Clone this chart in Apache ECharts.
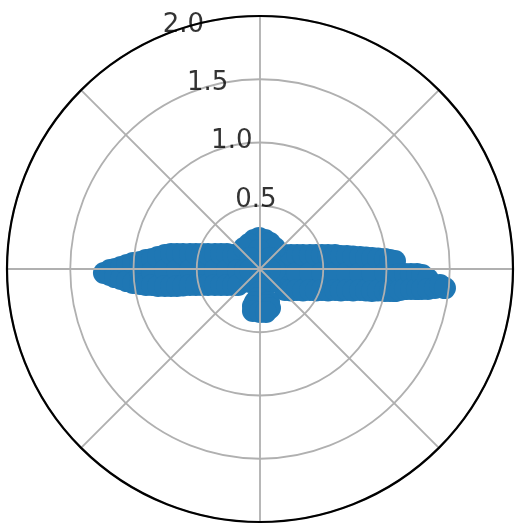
<!DOCTYPE html>
<html>
<head>
<meta charset="utf-8">
<script src="https://cdn.jsdelivr.net/npm/echarts@6/dist/echarts.min.js"></script>
<style>
  html, body { margin: 0; padding: 0; background: #ffffff; }
  #chart { width: 523px; height: 531px; }
</style>
</head>
<body>
<div id="chart"></div>
<script>
// Scatter samples as [radius, angle in degrees], angle counter-clockwise from east.
var rightArm = [
  [0.226, 29.2], [0.200, 350.9], [0.258, 320.0],
  [0.269, 24.3], [0.298, 325.3],
  [0.313, 20.7], [0.294, 353.8], [0.336, 330.4],
  [0.357, 18.0], [0.380, 333.4],
  [0.410, 15.6], [0.397, 355.4], [0.429, 337.2],
  [0.456, 14.0], [0.474, 339.0],
  [0.502, 12.7], [0.491, 356.3], [0.517, 341.3],
  [0.549, 11.6], [0.564, 342.5],
  [0.603, 10.6], [0.594, 356.9], [0.616, 344.4],
  [0.648, 9.1], [0.662, 345.1],
  [0.695, 8.5], [0.688, 357.4], [0.708, 346.4],
  [0.742, 7.7], [0.755, 347.0],
  [0.796, 6.8], [0.791, 357.7], [0.808, 348.1],
  [0.843, 6.2], [0.855, 348.5],
  [0.890, 5.6], [0.886, 358.0], [0.902, 348.9],
  [0.937, 5.1], [0.948, 349.7],
  [0.991, 4.6], [0.989, 358.2], [1.003, 350.0],
  [1.030, 4.0], [1.042, 350.4],
  [1.069, 3.4], [1.068, 357.5], [1.081, 350.7],
  [1.107, 358.0], [1.119, 351.5],
  [1.147, 358.0], [1.157, 352.1],
  [1.194, 358.1], [1.204, 352.5],
  [1.242, 358.2], [1.251, 352.7],
  [1.282, 357.9], [1.290, 353.0],
  [1.330, 356.6], [1.337, 353.2],
  [1.391, 353.8], [1.428, 354.9], [1.470, 354.1]
];

var leftArm = [
  [1.234, 181.5],
  [1.186, 180.4], [1.187, 182.3],
  [1.146, 180.0], [1.148, 183.2],
  [1.099, 179.2], [1.102, 184.1],
  [1.052, 178.3], [1.056, 185.2],
  [1.005, 177.3], [1.010, 186.3],
  [0.950, 176.7], [0.949, 181.9], [0.956, 187.1],
  [0.904, 175.5], [0.910, 188.0],
  [0.857, 174.7], [0.854, 181.6], [0.863, 188.4],
  [0.812, 173.3], [0.817, 189.5],
  [0.759, 171.6], [0.751, 180.6], [0.763, 190.1],
  [0.713, 170.4], [0.716, 190.8],
  [0.667, 169.8], [0.656, 180.7], [0.670, 191.6],
  [0.620, 169.0], [0.622, 192.1],
  [0.566, 167.9], [0.553, 180.8], [0.568, 192.9],
  [0.520, 166.8], [0.522, 194.0],
  [0.474, 165.5], [0.459, 181.0], [0.476, 195.4],
  [0.428, 163.9], [0.430, 197.1],
  [0.375, 161.6], [0.356, 181.3], [0.378, 199.6],
  [0.330, 159.0], [0.333, 202.3],
  [0.287, 155.6], [0.261, 181.7], [0.290, 205.9],
  [0.240, 152.6], [0.248, 210.6],
  [0.206, 147.5], [0.174, 182.6], [0.215, 216.0]
];

var core = [
  [0.245, 91.8], [0.234, 101.7], [0.233, 80.2],
  [0.216, 113.7], [0.220, 69.0], [0.209, 127.3], [0.204, 54.5],
  [0.150, 93.0], [0.055, 90.0], [0.000, 0.0],
  [0.117, 132.3], [0.117, 47.7], [0.130, 232.4], [0.130, 307.6],
  [0.119, 183.8], [0.119, 356.2],
  [0.079, 185.7], [0.079, 354.3], [0.063, 270.0], [0.126, 270.0]
];

var lowerLobe = [
  [0.182, 270.0], [0.230, 266.1],
  [0.264, 261.4], [0.270, 285.3], [0.289, 279.5], [0.298, 259.3],
  [0.318, 284.4], [0.337, 260.5], [0.340, 270.0], [0.343, 277.9]
];

// Radial tick labels and the angle they sit at.
var radiusTicks = [0.5, 1.0, 1.5, 2.0];
var radiusTickLabels = ['0.5', '1.0', '1.5', '2.0'];
var radiusLabelAngle = 112.5;

var points = rightArm.concat(leftArm, core, lowerLobe);
var tickData = radiusTicks.map(function (r) { return [r, radiusLabelAngle]; });

var chart = echarts.init(document.getElementById('chart'), null, { renderer: 'canvas' });
chart.setOption({
  backgroundColor: '#ffffff',
  animation: false,
  polar: { center: [260, 269], radius: 253 },
  angleAxis: {
    type: 'value', min: 0, max: 360, interval: 45,
    startAngle: 0, clockwise: false, z: 5,
    axisLine: { show: true, lineStyle: { color: '#000000', width: 2.2 } },
    axisTick: { show: false },
    axisLabel: { show: false },
    splitLine: { show: true, lineStyle: { color: '#b0b0b0', width: 1.8 } },
    splitArea: { show: false }
  },
  radiusAxis: {
    type: 'value', min: 0, max: 2, interval: 0.5, z: 4,
    axisLine: { show: false },
    axisTick: { show: false },
    axisLabel: { show: false },
    splitLine: { show: true, lineStyle: { color: '#b0b0b0', width: 1.8 } }
  },
  series: [
    {
      type: 'scatter',
      coordinateSystem: 'polar',
      data: points,
      symbolSize: 22,
      z: 1,
      itemStyle: { color: '#1f77b4', opacity: 1 }
    },
    {
      type: 'scatter',
      coordinateSystem: 'polar',
      data: tickData,
      symbolSize: 1,
      silent: true,
      z: 10,
      itemStyle: { color: 'rgba(0,0,0,0)' },
      label: {
        show: true,
        position: [0, 3],
        align: 'left',
        verticalAlign: 'bottom',
        fontFamily: 'DejaVu Sans',
        fontSize: 26,
        color: '#000000',
        formatter: function (p) { return radiusTickLabels[p.dataIndex]; }
      }
    }
  ]
});
</script>
</body>
</html>
